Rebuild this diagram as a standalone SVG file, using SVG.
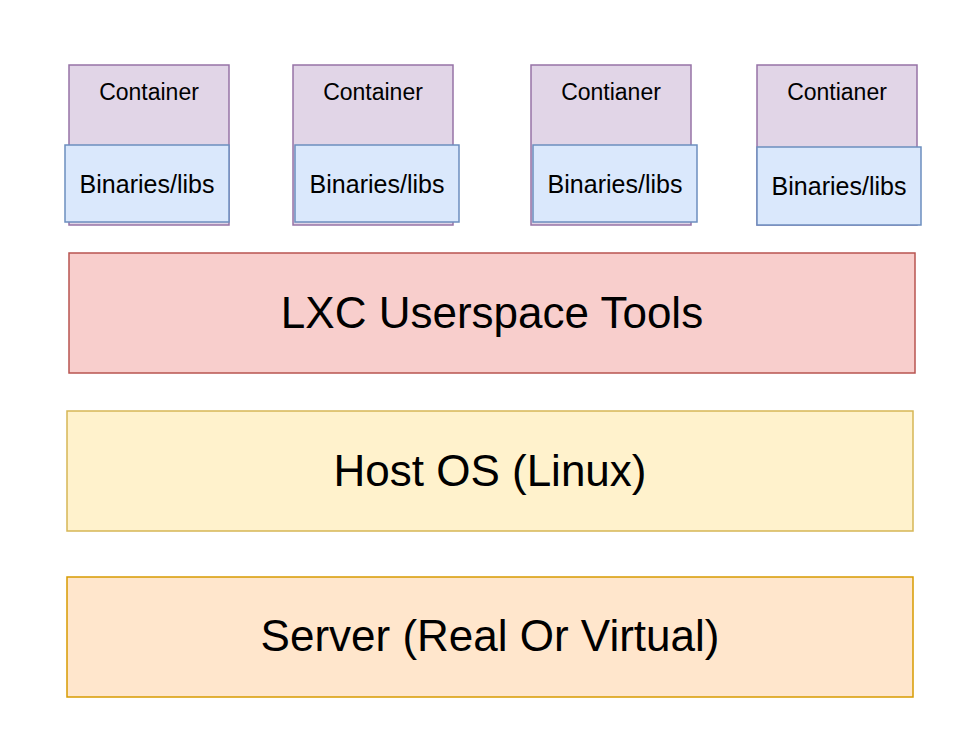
<svg xmlns="http://www.w3.org/2000/svg" width="976" height="742" viewBox="0 0 976 742">
<style>
text{font-family:"Liberation Sans",Arial,Helvetica,sans-serif;fill:#000;text-anchor:middle}
.ct{fill:#e1d5e7;stroke:#9673a6;stroke-width:1.5}
.bl{fill:#dae8fc;stroke:#6c8ebf;stroke-width:1.5}
.lxc{fill:#f8cecc;stroke:#b85450;stroke-width:1.5}
.host{fill:#fff2cc;stroke:#d6b656;stroke-width:1.5}
.srv{fill:#ffe6cc;stroke:#d79b00;stroke-width:1.5}
.s{font-size:23px}
.m{font-size:25px}
.l{font-size:44px}
</style>
<rect width="976" height="742" fill="#fff"/>
<g id="container1"><rect class="ct" x="69" y="65" width="160" height="160"/><text class="s" x="149" y="100">Container</text></g>
<g id="binaries1"><rect class="bl" x="65" y="145" width="164" height="77"/><text class="m" x="147" y="193">Binaries/libs</text></g>
<g id="container2"><rect class="ct" x="293" y="65" width="160" height="160"/><text class="s" x="373" y="100">Container</text></g>
<g id="binaries2"><rect class="bl" x="295" y="145" width="164" height="77"/><text class="m" x="377" y="193">Binaries/libs</text></g>
<g id="container3"><rect class="ct" x="531" y="65" width="160" height="160"/><text class="s" x="611" y="100">Contianer</text></g>
<g id="binaries3"><rect class="bl" x="533" y="145" width="164" height="77"/><text class="m" x="615" y="193">Binaries/libs</text></g>
<g id="container4"><rect class="ct" x="757" y="65" width="160" height="160"/><text class="s" x="837" y="100">Contianer</text></g>
<g id="binaries4"><rect class="bl" x="757" y="147" width="164" height="78"/><text class="m" x="839" y="195">Binaries/libs</text></g>
<g id="lxc"><rect class="lxc" x="69" y="253" width="846" height="120"/><text class="l" x="492" y="328">LXC Userspace Tools</text></g>
<g id="host"><rect class="host" x="67" y="411" width="846" height="120"/><text class="l" x="490" y="486">Host OS (Linux)</text></g>
<g id="server"><rect class="srv" x="67" y="577" width="846" height="120"/><text class="l" x="490" y="651">Server (Real Or Virtual)</text></g>
<g id="connectors"></g>
</svg>
